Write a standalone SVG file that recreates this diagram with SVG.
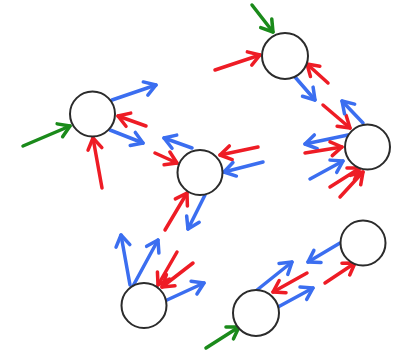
<svg xmlns="http://www.w3.org/2000/svg" width="397" height="352" viewBox="0 0 397 352">
<style>
.node{fill:#fff;stroke:#2b2b2b;stroke-width:2}
.r{stroke:#ee1c25;stroke-width:3.5;fill:none;stroke-linecap:round;marker-end:url(#mr)}
.b{stroke:#3b6ef0;stroke-width:3.5;fill:none;stroke-linecap:round;marker-end:url(#mb)}
.g{stroke:#1a8a1a;stroke-width:3.5;fill:none;stroke-linecap:round;marker-end:url(#mg)}
</style>
<defs>
<marker id="mr" markerUnits="userSpaceOnUse" orient="auto" refX="0" refY="0" markerWidth="30" markerHeight="30" overflow="visible"><path d="M-11,-7 L0,0 L-11,7" fill="none" stroke="#ee1c25" stroke-width="3.5" stroke-linecap="round" stroke-linejoin="round"/></marker>
<marker id="mb" markerUnits="userSpaceOnUse" orient="auto" refX="0" refY="0" markerWidth="30" markerHeight="30" overflow="visible"><path d="M-11,-7 L0,0 L-11,7" fill="none" stroke="#3b6ef0" stroke-width="3.5" stroke-linecap="round" stroke-linejoin="round"/></marker>
<marker id="mg" markerUnits="userSpaceOnUse" orient="auto" refX="0" refY="0" markerWidth="30" markerHeight="30" overflow="visible"><path d="M-11,-7 L0,0 L-11,7" fill="none" stroke="#1a8a1a" stroke-width="3.5" stroke-linecap="round" stroke-linejoin="round"/></marker>
</defs>
<rect width="397" height="352" fill="#fff"/>
<g id="connectors">
<path class="g" d="M23,146 L70,126"/>
<path class="b" d="M112,100 L156,85"/>
<path class="r" d="M146,126 L118,116"/>
<path class="b" d="M110,130 L143,143"/>
<path class="r" d="M102,188 L93,138"/>

<path class="b" d="M192,148 L164,138"/>
<path class="r" d="M155,153 L177,163"/>
<path class="r" d="M258,147 L220,155"/>
<path class="b" d="M263,162 L224,172"/>
<path class="r" d="M165,230 L187,193"/>
<path class="b" d="M205,195 L188,229"/>

<path class="g" d="M252,5 L273,32"/>
<path class="r" d="M215,70 L260,55"/>
<path class="r" d="M328,83 L307,64"/>
<path class="b" d="M295,77 L315,100"/>

<path class="r" d="M323,105 L350,128"/>
<path class="b" d="M363,123 L342,101"/>
<path class="b" d="M348,135 L305,144"/>
<path class="r" d="M305,153 L342,147"/>
<path class="b" d="M310,179 L343,161"/>
<path class="r" d="M330,187 L360,168"/>
<path class="r" d="M340,197 L363,172"/>

<path class="b" d="M130,285 L121,235"/>
<path class="b" d="M133,286 L158,240"/>
<path class="r" d="M177,252 L158,285"/>
<path class="r" d="M193,263 L162,287"/>
<path class="b" d="M167,300 L204,283"/>

<path class="g" d="M206,348 L239,327"/>
<path class="b" d="M257,290 L292,262"/>
<path class="r" d="M307,273 L273,292"/>
<path class="b" d="M278,307 L313,288"/>

<path class="b" d="M340,243 L308,262"/>
<path class="r" d="M325,283 L355,263"/>
</g>
<g id="nodeA"><circle class="node" cx="92.5" cy="114" r="22.5"/></g>
<g id="nodeB"><circle class="node" cx="200" cy="172.5" r="22.5"/></g>
<g id="nodeC"><circle class="node" cx="285" cy="56" r="23"/></g>
<g id="nodeD"><circle class="node" cx="367.5" cy="147" r="22.5"/></g>
<g id="nodeE"><circle class="node" cx="144" cy="305.5" r="22.5"/></g>
<g id="nodeF"><circle class="node" cx="256" cy="313" r="23"/></g>
<g id="nodeG"><circle class="node" cx="363" cy="243" r="22.5"/></g>
</svg>
